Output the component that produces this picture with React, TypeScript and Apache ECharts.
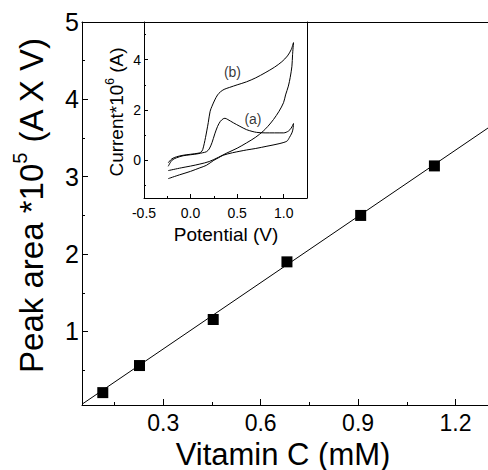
import React, { useEffect, useRef } from 'react';
import * as echarts from 'echarts';

// Main chart data
const concentration = [0.114, 0.227, 0.454, 0.681, 0.908, 1.135];
const peakArea = [0.21, 0.56, 1.155, 1.9, 2.5, 3.14];
const fitLine = [[0.05, 0.06], [1.3, 3.63]];

const xMajorTicks = [0.3, 0.6, 0.9, 1.2];
const xMinorTicks = [0.15, 0.45, 0.75, 1.05];
const yMajorTicks = [1, 2, 3, 4, 5];
const yMinorTicks = [0.5, 1.5, 2.5, 3.5, 4.5];

// Inset (cyclic voltammograms)
const cvB = [
  [-0.24, -0.1], [-0.2, 0.06], [-0.15, 0.14], [-0.08, 0.2], [0.0, 0.24], [0.08, 0.28],
  [0.11, 0.32], [0.13, 0.42], [0.16, 0.9], [0.19, 1.5], [0.21, 1.95], [0.23, 2.15],
  [0.26, 2.4], [0.29, 2.6], [0.32, 2.72], [0.36, 2.82], [0.42, 2.9], [0.5, 3.0],
  [0.6, 3.12], [0.7, 3.28], [0.8, 3.48], [0.9, 3.7], [0.98, 3.92], [1.04, 4.15],
  [1.08, 4.4], [1.105, 4.68],
  [1.095, 4.2], [1.088, 3.74], [1.07, 3.3], [1.05, 2.95], [1.02, 2.6], [0.998, 2.29],
  [0.95, 1.95], [0.89, 1.62], [0.83, 1.35], [0.78, 1.16], [0.7, 0.92], [0.6, 0.69],
  [0.5, 0.48], [0.39, 0.29], [0.3, 0.12], [0.2, -0.05], [0.1, -0.15], [0.0, -0.23],
  [-0.1, -0.3], [-0.24, -0.41],
];
const cvA = [
  [-0.24, -0.24], [-0.2, 0.0], [-0.15, 0.1], [-0.08, 0.18], [0.0, 0.22], [0.08, 0.26],
  [0.13, 0.3], [0.17, 0.34], [0.2, 0.45], [0.23, 0.7], [0.26, 1.05], [0.29, 1.35],
  [0.32, 1.55], [0.35, 1.65], [0.37, 1.67], [0.4, 1.62], [0.46, 1.49], [0.53, 1.35],
  [0.6, 1.22], [0.66, 1.15], [0.71, 1.11], [0.8, 1.09], [0.9, 1.09], [1.0, 1.09],
  [1.05, 1.16], [1.08, 1.28], [1.105, 1.46],
  [1.1, 1.25], [1.088, 1.09], [1.06, 0.9], [1.034, 0.76], [0.95, 0.66], [0.82, 0.56],
  [0.7, 0.47], [0.6, 0.41], [0.53, 0.36], [0.45, 0.3], [0.35, 0.2], [0.3, 0.1],
  [0.25, 0.0], [0.17, -0.2], [0.1, -0.3], [0.0, -0.44], [-0.12, -0.58], [-0.24, -0.73],
];
const curveLabels = [
  { name: '(b)', value: [0.45, 3.5] },
  { name: '(a)', value: [0.67, 1.63] },
];
const insetXMajor = [-0.5, 0, 0.5, 1.0];
const insetXMinor = [-0.25, 0.25, 0.75];
const insetYMajor = [0, 2, 4];
const insetYMinor = [-1, 1, 3, 5];

const FONT = '"Liberation Sans", Arial, Helvetica, sans-serif';
const BLACK = '#000';

export default function App() {
  const ref = useRef<HTMLDivElement>(null);
  useEffect(() => {
    if (!ref.current) return;
    const chart = echarts.init(ref.current, null, { renderer: 'svg' });
    const line = { show: true, onZero: false, lineStyle: { color: BLACK, width: 1 } };
    const noLine = { show: false, onZero: false };
    const noLabel = { show: false };
    const noSplit = { show: false };
    const tick = (vals: number[], len: number) => ({
      show: true, inside: true, length: len, customValues: vals,
      lineStyle: { color: BLACK, width: 1 },
    });
    const option: any = {
      animation: false,
      backgroundColor: '#fff',
      grid: [
        { left: 82, top: 22, right: 0, bottom: 65 },
        { left: 144, top: 22, width: 163, height: 176 },
      ],
      xAxis: [
        {
          gridIndex: 0, type: 'value', min: 0.05, max: 1.3, position: 'bottom',
          axisLine: line, axisTick: tick(xMajorTicks, 6), splitLine: noSplit,
          axisLabel: {
            customValues: xMajorTicks, margin: 6, fontSize: 23, color: BLACK, fontFamily: FONT,
            formatter: (v: number) => v.toFixed(1),
          },
        },
        {
          gridIndex: 0, type: 'value', min: 0.05, max: 1.3, position: 'bottom',
          axisLine: noLine, axisTick: tick(xMinorTicks, 3), axisLabel: noLabel, splitLine: noSplit,
        },
        {
          gridIndex: 0, type: 'value', min: 0.05, max: 1.3, position: 'top',
          axisLine: line, axisTick: { show: false }, axisLabel: noLabel, splitLine: noSplit,
        },
        {
          gridIndex: 1, type: 'value', min: -0.5, max: 1.25, position: 'bottom',
          axisLine: line, axisTick: tick(insetXMajor, 4), splitLine: noSplit,
          axisLabel: {
            customValues: insetXMajor, margin: 8, fontSize: 14, color: BLACK, fontFamily: FONT,
            formatter: (v: number) => v.toFixed(1),
          },
        },
        {
          gridIndex: 1, type: 'value', min: -0.5, max: 1.25, position: 'bottom',
          axisLine: noLine, axisTick: tick(insetXMinor, 2), axisLabel: noLabel, splitLine: noSplit,
        },
        {
          gridIndex: 1, type: 'value', min: -0.5, max: 1.25, position: 'top',
          axisLine: line, axisTick: { show: false }, axisLabel: noLabel, splitLine: noSplit,
        },
      ],
      yAxis: [
        {
          gridIndex: 0, type: 'value', min: 0.05, max: 5, position: 'left',
          axisLine: line, axisTick: tick(yMajorTicks, 6), splitLine: noSplit,
          axisLabel: {
            customValues: yMajorTicks, margin: 3, fontSize: 25, color: BLACK, fontFamily: FONT,
          },
        },
        {
          gridIndex: 0, type: 'value', min: 0.05, max: 5, position: 'left',
          axisLine: noLine, axisTick: tick(yMinorTicks, 3), axisLabel: noLabel, splitLine: noSplit,
        },
        {
          gridIndex: 1, type: 'value', min: -1.5, max: 5.5, position: 'left',
          axisLine: line, axisTick: tick(insetYMajor, 4), splitLine: noSplit,
          axisLabel: {
            customValues: insetYMajor, margin: 3, fontSize: 14, color: BLACK, fontFamily: FONT,
          },
        },
        {
          gridIndex: 1, type: 'value', min: -1.5, max: 5.5, position: 'left',
          axisLine: noLine, axisTick: tick(insetYMinor, 2), axisLabel: noLabel, splitLine: noSplit,
        },
        {
          gridIndex: 1, type: 'value', min: -1.5, max: 5.5, position: 'right',
          axisLine: line, axisTick: { show: false }, axisLabel: noLabel, splitLine: noSplit,
        },
      ],
      series: [
        {
          type: 'line', xAxisIndex: 0, yAxisIndex: 0, data: fitLine, showSymbol: false,
          lineStyle: { color: BLACK, width: 1 }, silent: true,
        },
        {
          type: 'scatter', xAxisIndex: 0, yAxisIndex: 0, symbol: 'rect', symbolSize: 11,
          itemStyle: { color: BLACK, opacity: 1 },
          data: concentration.map((c, i) => [c, peakArea[i]]),
        },
        {
          type: 'line', xAxisIndex: 3, yAxisIndex: 2, data: cvA, showSymbol: false, smooth: 0.3,
          lineStyle: { color: BLACK, width: 1 },
        },
        {
          type: 'line', xAxisIndex: 3, yAxisIndex: 2, data: cvB, showSymbol: false, smooth: 0.3,
          lineStyle: { color: BLACK, width: 1 },
        },
        {
          type: 'scatter', xAxisIndex: 3, yAxisIndex: 2, symbolSize: 1,
          itemStyle: { color: 'rgba(0,0,0,0)' },
          label: {
            show: true, position: 'inside', formatter: '{b}', fontSize: 14,
            color: BLACK, fontFamily: FONT, textBorderWidth: 0,
          },
          data: curveLabels,
        },
      ],
      graphic: [
        {
          type: 'text', x: 283, y: 454,
          style: {
            text: 'Vitamin C (mM)', fontSize: 31, fontFamily: FONT, fill: BLACK,
            align: 'center', verticalAlign: 'middle',
          },
        },
        {
          type: 'text', x: 31, y: 205, rotation: Math.PI / 2,
          style: {
            text: '{n|Peak area *10}{s|5}{n| (A X V)}',
            rich: {
              n: { fontSize: 33, fontFamily: FONT, fill: BLACK },
              s: { fontSize: 20, fontFamily: FONT, fill: BLACK, padding: [0, 0, 22, 0] },
            },
            fill: BLACK, align: 'center', verticalAlign: 'middle',
          },
        },
        {
          type: 'text', x: 226, y: 234,
          style: {
            text: 'Potential (V)', fontSize: 19, fontFamily: FONT, fill: BLACK,
            align: 'center', verticalAlign: 'middle',
          },
        },
        {
          type: 'text', x: 116, y: 112, rotation: Math.PI / 2,
          style: {
            text: '{n|Current*10}{s|6}{n| (A)}',
            rich: {
              n: { fontSize: 19, fontFamily: FONT, fill: BLACK },
              s: { fontSize: 12, fontFamily: FONT, fill: BLACK, padding: [0, 0, 12, 0] },
            },
            fill: BLACK, align: 'center', verticalAlign: 'middle',
          },
        },
      ],
    };
    chart.setOption(option);
    return () => chart.dispose();
  }, []);
  return (
    <div
      ref={ref}
      style={{ position: 'absolute', left: 0, top: 0, width: 488, height: 470 }}
    />
  );
}
